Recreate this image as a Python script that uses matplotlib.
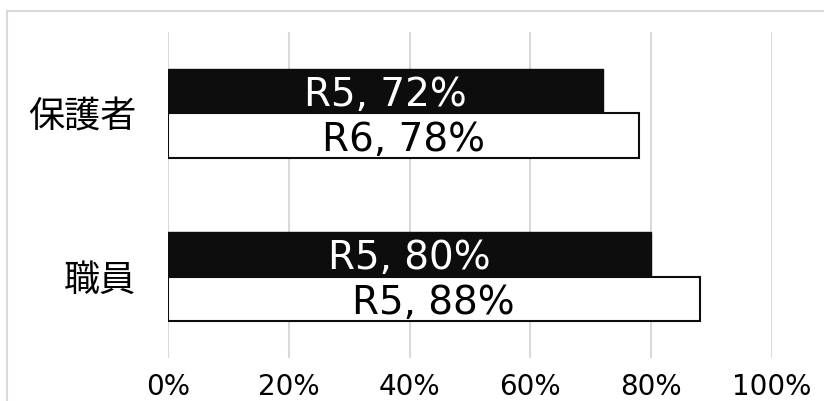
import matplotlib
matplotlib.use("Agg")
import matplotlib.pyplot as plt
import numpy as np
from matplotlib.patches import Rectangle
from matplotlib.ticker import FixedLocator

plt.rcParams['font.family'] = ['Noto Sans CJK JP', 'DejaVu Sans']
latin = ['DejaVu Sans', 'Noto Sans CJK JP']

# data
categories = ['職員', '保護者']
r5_values = [80, 72]
r6_values = [88, 78]
r5_labels = ['R5, 80%', 'R5, 72%']
r6_labels = ['R5, 88%', 'R6, 78%']
x_ticks = [0, 20, 40, 60, 80, 100]
x_tick_labels = ['0%', '20%', '40%', '60%', '80%', '100%']

fig = plt.figure(figsize=(8.24, 4.01), dpi=100)
ax = fig.add_axes([168 / 824, 43 / 401, 604 / 824, 326 / 401])

y = np.arange(len(categories))
bar_h = 0.27

ax.barh(y + bar_h / 2, r5_values, height=bar_h, color='#0d0d0d',
        edgecolor='#0d0d0d', linewidth=1.0, zorder=3)
ax.barh(y - bar_h / 2, r6_values, height=bar_h, color='white',
        edgecolor='#0d0d0d', linewidth=1.5, zorder=3)

for i in range(len(categories)):
    ax.text(r5_values[i] / 2, y[i] + bar_h / 2, r5_labels[i], color='white',
            fontsize=28, family=latin, ha='center', va='center_baseline',
            zorder=4)
    ax.text(r6_values[i] / 2, y[i] - bar_h / 2, r6_labels[i], color='black',
            fontsize=28, family=latin, ha='center', va='center_baseline',
            zorder=4)

ax.set_xlim(0, 100)
ax.set_ylim(-0.5, 1.5)
ax.xaxis.set_major_locator(FixedLocator(x_ticks))
ax.set_xticklabels(x_tick_labels, fontsize=20, family=latin)
ax.set_yticks(y)
ax.set_yticklabels(categories, fontsize=26)
ax.tick_params(axis='both', length=0)
ax.tick_params(axis='x', pad=11)
ax.tick_params(axis='y', pad=23)
ax.grid(axis='x', color='#d9d9d9', linewidth=1.5, zorder=0)
for side in ax.spines:
    ax.spines[side].set_visible(False)

fig.patches.append(Rectangle((7 / 824, -0.1), 1.2, 390 / 401 + 0.1,
                             transform=fig.transFigure, fill=False,
                             edgecolor='#d9d9d9', linewidth=1.5))

fig.savefig('out.png', dpi=100)
